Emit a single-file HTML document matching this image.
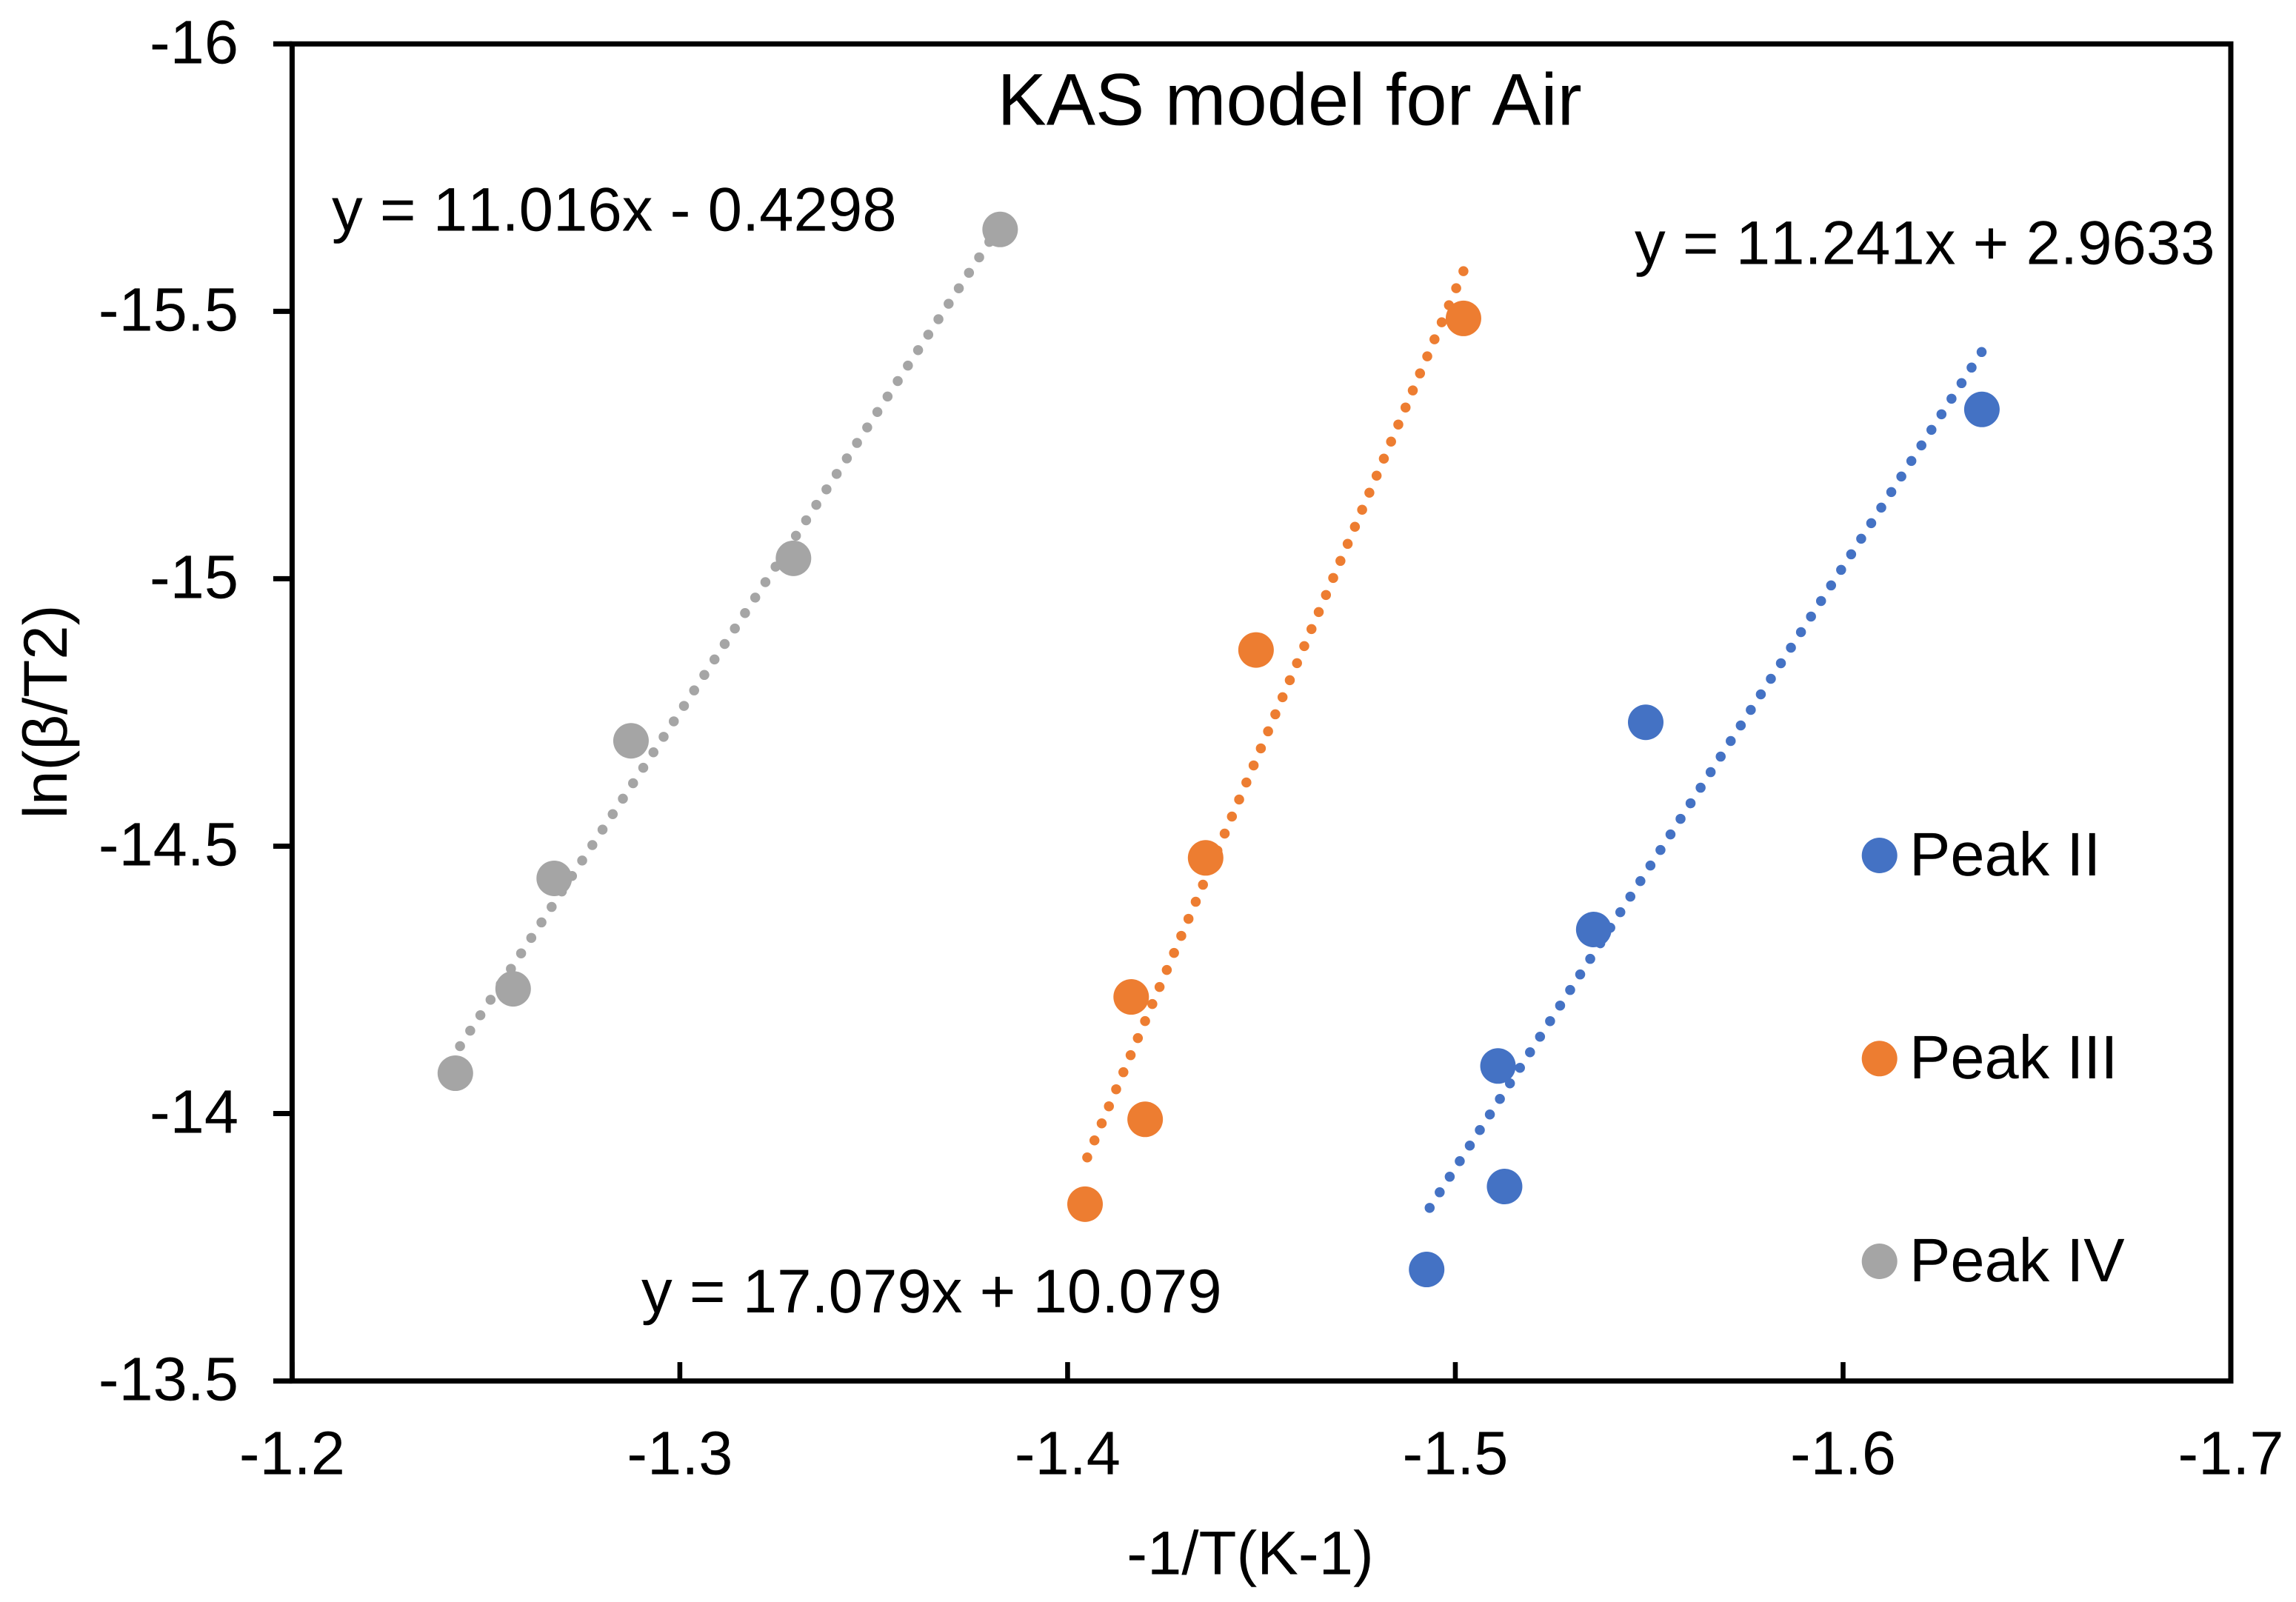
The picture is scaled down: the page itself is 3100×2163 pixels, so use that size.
<!DOCTYPE html>
<html lang="en">
<head>
<meta charset="utf-8">
<title>KAS model for Air</title>
<style>
html,body{margin:0;padding:0;background:#fff;}
body{width:3100px;height:2163px;overflow:hidden;}
svg{display:block;}
text{font-family:"Liberation Sans",Arial,sans-serif;fill:#000;font-size:83px;text-rendering:geometricPrecision;font-kerning:none;}
text.wide{font-size:83.4px;}
</style>
</head>
<body>
<svg id="chart" xmlns="http://www.w3.org/2000/svg" width="3100" height="2163" viewBox="0 0 3100 2163">
  <rect x="0" y="0" width="3100" height="2163" fill="#ffffff"/>
  <g id="trendlines"></g>
  <g id="points"></g>
  <g id="axes"></g>
  <text x="1346.5" y="168.7" style="font-size:99.3px">KAS model for Air</text>
  <text class="wide" x="448" y="311.5">y = 11.016x - 0.4298</text>
  <text class="wide" x="2207" y="356.7">y = 11.241x + 2.9633</text>
  <text class="wide" x="866" y="1772">y = 17.079x + 10.079</text>
  <text class="wide" x="1688" y="2125.7" text-anchor="middle">-1/T(K-1)</text>
  <text class="wide" text-anchor="middle" transform="translate(90 961) rotate(-90)">ln(β/T2)</text>
  <g>
    <circle cx="2537.7" cy="1155" r="24" fill="#4472C4"/>
    <text x="2578" y="1182">Peak II</text>
    <circle cx="2537.7" cy="1429.3" r="24" fill="#ED7D31"/>
    <text x="2578" y="1456">Peak III</text>
    <circle cx="2537.7" cy="1703" r="24" fill="#A5A5A5"/>
    <text x="2578" y="1730">Peak IV</text>
  </g>
</svg>
<script>
// Chart data
const xTickValues = [-1.2, -1.3, -1.4, -1.5, -1.6, -1.7];
const yTickValues = [-16, -15.5, -15, -14.5, -14, -13.5];
const xTickLabels = ["-1.2", "-1.3", "-1.4", "-1.5", "-1.6", "-1.7"];
const yTickLabels = ["-16", "-15.5", "-15", "-14.5", "-14", "-13.5"];

const peakIIx = [-1.4926, -1.5127, -1.5110, -1.5357, -1.5491, -1.6358];
const peakIIy = [-13.7085, -13.8636, -14.0890, -14.3441, -14.7316, -15.3166];
const peakIIIx = [-1.4045, -1.4200, -1.4164, -1.4356, -1.4486, -1.5021];
const peakIIIy = [-13.8306, -13.9893, -14.2181, -14.4781, -14.8668, -15.4868];
const peakIVx = [-1.2421, -1.2570, -1.2676, -1.2874, -1.3293, -1.3826];
const peakIVy = [-14.0755, -14.2333, -14.4398, -14.6970, -15.0382, -15.6531];

const trendSlopes = [11.241, 17.079, 11.016];
const trendIntercepts = [2.9633, 10.079, -0.4298];

// Axis functions (plot frame geometry lives here, not in the data)
const xDomain = [-1.2, -1.7], yDomain = [-16, -13.5];
const xRange = [394.4, 3012], yRange = [59.3, 1864.6];
function xScale(v){ return xRange[0] + (v - xDomain[0]) / (xDomain[1] - xDomain[0]) * (xRange[1] - xRange[0]); }
function yScale(v){ return yRange[0] + (v - yDomain[0]) / (yDomain[1] - yDomain[0]) * (yRange[1] - yRange[0]); }

const NS = "http://www.w3.org/2000/svg";
function make(tag, parent){ const el = document.createElementNS(NS, tag); parent.appendChild(el); return el; }

const axes = document.getElementById("axes");
const pointsLayer = document.getElementById("points");
const trendLayer = document.getElementById("trendlines");

// Series styling
const seriesKeys = ["peak-ii", "peak-iii", "peak-iv"];
const seriesColors = ["#4472C4", "#ED7D31", "#A5A5A5"];
const seriesDotPhase = [7.5, 7.5, 11.5];
const seriesXs = [peakIIx, peakIIIx, peakIVx];
const seriesYs = [peakIIy, peakIIIy, peakIVy];

seriesKeys.forEach(function(key, s){
  const xs = seriesXs[s], ys = seriesYs[s];
  const lo = Math.max.apply(null, xs), hi = Math.min.apply(null, xs);
  const line = make("line", trendLayer);
  
  
  line.setAttribute("x1", xScale(lo));
  line.setAttribute("y1", yScale(trendSlopes[s] * lo + trendIntercepts[s]));
  line.setAttribute("x2", xScale(hi));
  line.setAttribute("y2", yScale(trendSlopes[s] * hi + trendIntercepts[s]));
  line.setAttribute("stroke", seriesColors[s]);
  line.setAttribute("stroke-width", "13.5");
  line.setAttribute("stroke-linecap", "round");
  line.setAttribute("stroke-dasharray", "0 25");
  line.setAttribute("stroke-dashoffset", -seriesDotPhase[s]);

  xs.forEach(function(xv, i){
    const c = make("circle", pointsLayer);
    
    
    c.setAttribute("cx", xScale(xv));
    c.setAttribute("cy", yScale(ys[i]));
    c.setAttribute("r", "24");
    c.setAttribute("fill", seriesColors[s]);
  });
});

// Y ticks (outward) and labels
yTickValues.forEach(function(v, i){
  const t = make("line", axes);
  
  
  t.setAttribute("x1", xRange[0] - 25.5);
  t.setAttribute("x2", xRange[0]);
  t.setAttribute("y1", yScale(v));
  t.setAttribute("y2", yScale(v));
  t.setAttribute("stroke", "#000");
  t.setAttribute("stroke-width", "7");
  const l = make("text", axes);
  
  
  l.setAttribute("x", 322);
  l.setAttribute("y", yScale(v) + 26);
  l.setAttribute("text-anchor", "end");
  l.textContent = yTickLabels[i];
});

// X ticks (inward) and labels
xTickValues.forEach(function(v, i){
  const t = make("line", axes);
  
  
  t.setAttribute("x1", xScale(v));
  t.setAttribute("x2", xScale(v));
  t.setAttribute("y1", yRange[1] - 25.5);
  t.setAttribute("y2", yRange[1]);
  t.setAttribute("stroke", "#000");
  t.setAttribute("stroke-width", "6.6");
  const l = make("text", axes);
  
  
  l.setAttribute("x", xScale(v));
  l.setAttribute("y", 1990.7);
  l.setAttribute("text-anchor", "middle");
  l.textContent = xTickLabels[i];
});

// Plot frame
const frame = make("rect", axes);


frame.setAttribute("x", xRange[0]);
frame.setAttribute("y", yRange[0]);
frame.setAttribute("width", xRange[1] - xRange[0]);
frame.setAttribute("height", yRange[1] - yRange[0]);
frame.setAttribute("fill", "none");
frame.setAttribute("stroke", "#000");
frame.setAttribute("stroke-width", "7");
</script>
</body>
</html>
